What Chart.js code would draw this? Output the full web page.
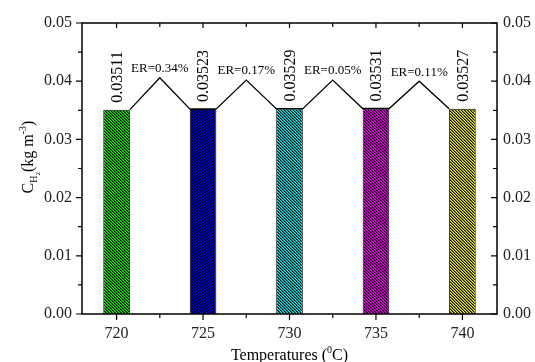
<!DOCTYPE html>
<html>
<head>
<meta charset="utf-8">
<script src="https://cdn.jsdelivr.net/npm/chart.js@4.4.0/dist/chart.umd.min.js"></script>
<style>
  html, body { margin: 0; padding: 0; background: #fff; }
  #wrap { width: 535px; height: 362px; }
</style>
</head>
<body>
<div id="wrap"><canvas id="c" width="535" height="362"></canvas></div>
<script>
// Hydrogen concentration per gasification temperature
const temperatures = [720, 725, 730, 735, 740];
const concentrations = [0.03511, 0.03523, 0.03529, 0.03531, 0.03527];
// Relative error between neighbouring temperatures, and the apex of each connector
const errorRates = ['0.34', '0.17', '0.05', '0.11'];
const peakLevels = [0.0406, 0.0402, 0.0402, 0.0400];
const barColors = ['#00ee00', '#0000ee', '#00eeee', '#ee00ee', '#eeee00'];
const xTickValues = [720, 725, 730, 735, 740];
const yTickValues = [0, 0.01, 0.02, 0.03, 0.04, 0.05];

const SERIF = '"Liberation Serif", "Times New Roman", serif';
const TEMP_STEP = 5;
const BAR_FRACTION = 0.308;               // bar width as a share of the temperature step
const HALF_BAR = BAR_FRACTION * TEMP_STEP / 2;

// Diagonal hatch fill: coloured ground with soft-edged black "\" stripes
function hatch(color) {
  const t = document.createElement('canvas');
  t.width = 3; t.height = 3;
  const g = t.getContext('2d');
  g.fillStyle = color;
  g.fillRect(0, 0, 3, 3);
  for (let y = 0; y < 3; y++) {
    for (let x = 0; x < 3; x++) {
      const k = (x - y + 3) % 3;
      if (k === 0) { g.fillStyle = '#000'; g.fillRect(x, y, 1, 1); }
      else if (k === 1) { g.fillStyle = 'rgba(0,0,0,0.45)'; g.fillRect(x, y, 1, 1); }
    }
  }
  return document.getElementById('c').getContext('2d').createPattern(t, 'repeat');
}

// Connector: from the top-right corner of one bar, up to the apex, down to the next bar
const connector = [];
for (let i = 0; i < temperatures.length - 1; i++) {
  connector.push({ x: temperatures[i] + HALF_BAR, y: concentrations[i] });
  connector.push({ x: (temperatures[i] + temperatures[i + 1]) / 2, y: peakLevels[i] });
  connector.push({ x: temperatures[i + 1] - HALF_BAR, y: concentrations[i + 1] });
}

function drawRich(ctx, parts, x, y, align) {
  // parts: [text, fontSize, baselineShift]
  let total = 0;
  const widths = parts.map(p => { ctx.font = p[1] + 'px ' + SERIF; const w = ctx.measureText(p[0]).width; total += w; return w; });
  let cx = align === 'center' ? x - total / 2 : x;
  ctx.textAlign = 'left';
  ctx.textBaseline = 'alphabetic';
  parts.forEach((p, i) => {
    ctx.font = p[1] + 'px ' + SERIF;
    ctx.fillText(p[0], cx, y + p[2]);
    cx += widths[i];
  });
}

const decorations = {
  id: 'decorations',
  afterDatasetsDraw(chart) {
    const ctx = chart.ctx;
    const a = chart.chartArea;
    const xs = chart.scales.x, ys = chart.scales.y;
    ctx.save();
    ctx.strokeStyle = '#000';
    ctx.lineWidth = 1.5;
    ctx.strokeRect(a.left, a.top, a.right - a.left, a.bottom - a.top);

    ctx.lineWidth = 1.2;
    ctx.beginPath();
    // y ticks: major and minor, outward on the left, inward on the right
    yTickValues.forEach((v, i) => {
      const py = ys.getPixelForValue(v);
      ctx.moveTo(a.left - 6, py); ctx.lineTo(a.left, py);
      ctx.moveTo(a.right - 6, py); ctx.lineTo(a.right, py);
      if (i < yTickValues.length - 1) {
        const my = ys.getPixelForValue((v + yTickValues[i + 1]) / 2);
        ctx.moveTo(a.left - 4, my); ctx.lineTo(a.left, my);
        ctx.moveTo(a.right - 4, my); ctx.lineTo(a.right, my);
      }
    });
    // x ticks: outward at the bottom, inward at the top
    xTickValues.forEach((v, i) => {
      const px = xs.getPixelForValue(v);
      ctx.moveTo(px, a.bottom); ctx.lineTo(px, a.bottom + 6);
      ctx.moveTo(px, a.top); ctx.lineTo(px, a.top + 5);
      if (i < xTickValues.length - 1) {
        const mx = xs.getPixelForValue((v + xTickValues[i + 1]) / 2);
        ctx.moveTo(mx, a.bottom); ctx.lineTo(mx, a.bottom + 4);
        ctx.moveTo(mx, a.top); ctx.lineTo(mx, a.top + 4);
      }
    });
    ctx.stroke();

    ctx.fillStyle = '#000';
    // value labels, rotated above each bar
    const bars = chart.getDatasetMeta(0).data;
    ctx.font = '16px ' + SERIF;
    bars.forEach((el, i) => {
      ctx.save();
      ctx.translate(el.x + 1, el.y - 7);
      ctx.rotate(-Math.PI / 2);
      ctx.textAlign = 'left';
      ctx.textBaseline = 'middle';
      ctx.fillText(concentrations[i].toFixed(5), 0, 0);
      ctx.restore();
    });

    // error-rate labels above each apex
    ctx.font = '13px ' + SERIF;
    ctx.textAlign = 'center';
    ctx.textBaseline = 'middle';
    errorRates.forEach((er, i) => {
      const px = xs.getPixelForValue((temperatures[i] + temperatures[i + 1]) / 2);
      const py = ys.getPixelForValue(peakLevels[i]);
      ctx.fillText('ER=' + er + '%', px, py - 9);
    });

    // axis titles
    drawRich(ctx, [['Temperatures (', 16, 0], ['0', 10, -7], ['C)', 16, 0]],
      (a.left + a.right) / 2, 360, 'center');

    ctx.save();
    ctx.translate(33, 157);
    ctx.rotate(-Math.PI / 2);
    drawRich(ctx, [['C', 16, 0], ['H', 10, 4], ['2', 7, 7], ['(kg m', 16, 0], ['-3', 10, -7], [')', 16, 0]],
      0, 0, 'center');
    ctx.restore();

    ctx.restore();
  }
};

const tickFont = { family: SERIF, size: 16 };

new Chart(document.getElementById('c'), {
  type: 'bar',
  data: {
    datasets: [
      {
        type: 'bar',
        data: temperatures.map((t, i) => ({ x: t, y: concentrations[i] })),
        backgroundColor: barColors.map(hatch),
        borderColor: '#111',
        borderWidth: 1,
        barPercentage: BAR_FRACTION,
        categoryPercentage: 1,
        order: 2
      },
      {
        type: 'line',
        data: connector,
        borderColor: '#000',
        borderWidth: 1.3,
        pointRadius: 0,
        tension: 0,
        fill: false,
        order: 1
      }
    ]
  },
  options: {
    responsive: false,
    animation: false,
    devicePixelRatio: 1,
    layout: { padding: { top: 23, left: 0, right: 0, bottom: 0 } },
    plugins: { legend: { display: false }, tooltip: { enabled: false } },
    scales: {
      x: {
        type: 'linear',
        position: 'bottom',
        offset: false,
        min: 718,
        max: 742,
        grid: { display: false, drawTicks: false, offset: false },
        border: { display: false },
        afterBuildTicks: s => { s.ticks = xTickValues.map(v => ({ value: v })); },
        afterFit: s => { s.height = 48; },
        ticks: {
          font: tickFont, color: '#222', padding: 10, maxRotation: 0, autoSkip: false,
          callback: v => String(v)
        }
      },
      y: {
        position: 'left',
        min: 0,
        max: 0.05,
        grid: { display: false, drawTicks: false },
        border: { display: false },
        afterBuildTicks: s => { s.ticks = yTickValues.map(v => ({ value: v })); },
        afterFit: s => { s.width = 82; },
        ticks: { font: tickFont, color: '#222', padding: 10, callback: v => v.toFixed(2) }
      },
      y2: {
        position: 'right',
        min: 0,
        max: 0.05,
        grid: { display: false, drawTicks: false },
        border: { display: false },
        afterBuildTicks: s => { s.ticks = yTickValues.map(v => ({ value: v })); },
        afterFit: s => { s.width = 38; },
        ticks: { font: tickFont, color: '#222', padding: 6, callback: v => v.toFixed(2) }
      }
    }
  },
  plugins: [decorations]
});
</script>
</body>
</html>
